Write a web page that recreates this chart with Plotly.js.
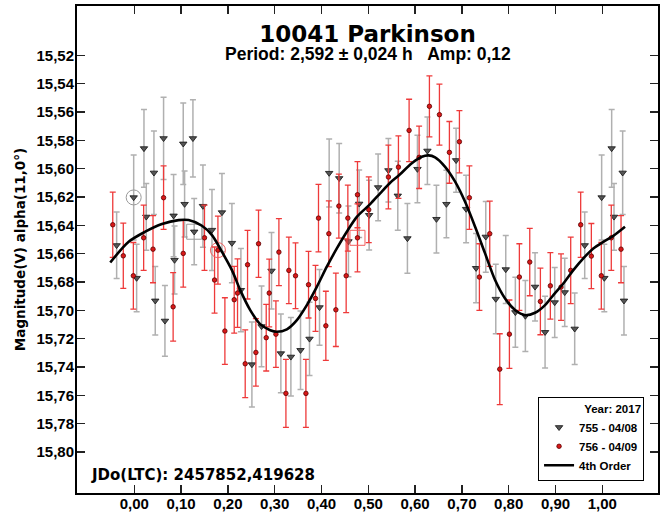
<!DOCTYPE html>
<html>
<head>
<meta charset="utf-8">
<script src="https://cdn.plot.ly/plotly-3.0.1.min.js"></script>
<style>html,body{margin:0;padding:0;background:#fff;}#chart{width:665px;height:516px;}</style>
</head>
<body>
<div id="chart"></div>
<script>
// Session 755 - 04/08 (grey triangles)
const phase755 = [-0.0377,-0.0013,0.0050,0.0207,0.0256,0.0420,0.0448,0.0626,0.0655,0.0840,0.0860,0.1046,0.1075,0.1253,0.1280,0.1467,0.1660,0.1873,0.2086,0.2278,0.2513,0.2719,0.2932,0.3132,0.3346,0.3552,0.3744,0.3958,0.4164,0.4378,0.4576,0.4805,0.5018,0.5210,0.5430,0.5630,0.5836,0.6050,0.6263,0.6456,0.6669,0.6876,0.7090,0.7303,0.7510,0.7724,0.7937,0.8142,0.8356,0.8563,0.8777,0.8983,0.9197,0.9410,0.9624,0.9986,1.0043,1.0200,1.0250,1.0435,1.0463];
const mag755 = [15.6541,15.6203,15.6772,15.5857,15.6340,15.6029,15.6932,15.5786,15.7074,15.6332,15.6645,15.5824,15.6250,15.5786,15.6445,15.6264,15.6433,15.6309,15.6525,15.6857,15.7382,15.7113,15.6721,15.7304,15.7328,15.7281,15.7201,15.6979,15.6031,15.6068,15.6513,15.6248,15.6328,15.6132,15.6012,15.6191,15.6492,15.6003,15.5874,15.6356,15.6250,15.5941,15.6285,15.6702,15.6481,15.6920,15.6711,15.7014,15.7040,15.6834,15.7154,15.6944,15.6873,15.7130,15.6541,15.6203,15.6772,15.5857,15.6340,15.6029,15.6932];
const err755 = [0.0235,0.0300,0.0238,0.0274,0.0235,0.0295,0.0242,0.0290,0.0250,0.0290,0.0240,0.0288,0.0233,0.0273,0.0234,0.0290,0.0286,0.0275,0.0280,0.0294,0.0300,0.0285,0.0270,0.0278,0.0277,0.0277,0.0259,0.0268,0.0240,0.0245,0.0250,0.0238,0.0246,0.0235,0.0224,0.0244,0.0246,0.0238,0.0238,0.0239,0.0238,0.0226,0.0238,0.0245,0.0250,0.0245,0.0240,0.0247,0.0250,0.0241,0.0253,0.0247,0.0241,0.0252,0.0235,0.0300,0.0238,0.0274,0.0235,0.0295,0.0242];

// Session 756 - 04/09 (red dots)
const phase756 = [-0.0460,-0.0235,-0.0020,0.0200,0.0400,0.0626,0.0830,0.1046,0.1500,0.1715,0.1787,0.1936,0.2135,0.2206,0.2370,0.2420,0.2598,0.2655,0.2819,0.2883,0.3026,0.3090,0.3240,0.3303,0.3445,0.3667,0.3723,0.3872,0.3936,0.4093,0.4157,0.4307,0.4371,0.4527,0.4563,0.4769,0.4769,0.5010,0.5430,0.5644,0.5872,0.6086,0.6306,0.6520,0.6733,0.6947,0.7160,0.7374,0.7595,0.7809,0.8015,0.8228,0.8450,0.8677,0.8890,0.9118,0.9325,0.9538,0.9766,0.9979,1.0192,1.0400];
const mag756 = [15.6396,15.6615,15.6756,15.6488,15.6568,15.6205,15.6975,15.6598,15.6488,15.6786,15.6575,15.7146,15.6925,15.6878,15.7377,15.6678,15.7297,15.6530,15.7193,15.6878,15.7168,15.6589,15.7586,15.6718,15.6756,15.7586,15.6819,15.6916,15.6349,15.7109,15.6459,15.6996,15.6264,15.6756,15.6349,15.6184,15.6488,15.6290,15.6059,15.5989,15.5730,15.5920,15.5560,15.5619,15.5885,15.5810,15.6205,15.6765,15.6459,15.7415,15.7168,15.6765,15.6659,15.6937,15.6827,15.6836,15.6718,15.6396,15.6617,15.6756,15.6488,15.6568];
const err756 = [0.0230,0.0230,0.0235,0.0230,0.0237,0.0224,0.0242,0.0238,0.0230,0.0233,0.0240,0.0235,0.0235,0.0242,0.0239,0.0242,0.0238,0.0237,0.0235,0.0239,0.0235,0.0237,0.0240,0.0235,0.0232,0.0240,0.0235,0.0233,0.0238,0.0244,0.0232,0.0259,0.0226,0.0260,0.0233,0.0233,0.0240,0.0232,0.0225,0.0220,0.0220,0.0220,0.0215,0.0215,0.0218,0.0220,0.0224,0.0235,0.0230,0.0250,0.0241,0.0235,0.0238,0.0235,0.0235,0.0235,0.0235,0.0230,0.0230,0.0235,0.0230,0.0237];

// 4th order Fourier fit
const fitPhase = [-0.0513,-0.0120,0.0235,0.0590,0.0946,0.1160,0.1445,0.1660,0.1873,0.2086,0.2264,0.2477,0.2690,0.2904,0.3046,0.3260,0.3474,0.3687,0.3900,0.4114,0.4328,0.4541,0.4755,0.5040,0.5253,0.5467,0.5644,0.5930,0.6143,0.6285,0.6427,0.6641,0.6855,0.7068,0.7282,0.7495,0.7709,0.7922,0.8136,0.8349,0.8563,0.8777,0.8954,0.9167,0.9381,0.9594,0.9808,1.0021,1.0235,1.0485];
const fitMag = [15.6662,15.6516,15.6445,15.6391,15.6363,15.6363,15.6403,15.6469,15.6587,15.6716,15.6857,15.6998,15.7097,15.7140,15.7151,15.7134,15.7069,15.6963,15.6834,15.6692,15.6563,15.6445,15.6340,15.6250,15.6174,15.6099,15.6050,15.5962,15.5916,15.5906,15.5920,15.5987,15.6092,15.6234,15.6410,15.6598,15.6786,15.6916,15.6998,15.7034,15.7017,15.6963,15.6892,15.6810,15.6716,15.6633,15.6563,15.6516,15.6474,15.6410];

// Session start/end highlight markers
const markPhase755 = [-0.0013, 0.1280];
const markMag755 = [15.6203, 15.6445];
const markSym755 = ['circle-open', 'square-open'];
const markPhase756 = [0.1787, 0.4769];
const markMag756 = [15.6575, 15.6488];
const markSym756 = ['circle-open', 'square-open'];

// Axis ticks
const xTickVals = [0,0.1,0.2,0.3,0.4,0.5,0.6,0.7,0.8,0.9,1.0];
const xTickText = ['0,00','0,10','0,20','0,30','0,40','0,50','0,60','0,70','0,80','0,90','1,00'];
const yTickVals = [15.52,15.54,15.56,15.58,15.60,15.62,15.64,15.66,15.68,15.70,15.72,15.74,15.76,15.78,15.80];
const yTickText = ['15,52','15,54','15,56','15,58','15,60','15,62','15,64','15,66','15,68','15,70','15,72','15,74','15,76','15,78','15,80'];

const boldArial = {family:'Liberation Sans, Arial, sans-serif', size:15, color:'#000', weight:'bold'};
const boldWide = {family:'DejaVu Sans, sans-serif', color:'#000', weight:'bold'};

const traces = [
  {
    x: phase755, y: mag755, type:'scatter', mode:'markers', name:'755 - 04/08',
    marker:{symbol:'triangle-down', size:6.5, color:'#555555', line:{color:'#111', width:0.8}},
    error_y:{type:'data', array: err755, visible:true, color:'#b0b0b0', thickness:1.5, width:3}
  },
  {
    x: phase756, y: mag756, type:'scatter', mode:'markers', name:'756 - 04/09',
    marker:{symbol:'circle', size:4.5, color:'#d81818', line:{color:'#5a0000', width:0.8}},
    error_y:{type:'data', array: err756, visible:true, color:'#ee3a3a', thickness:1.3, width:3}
  },
  {
    x: markPhase755, y: markMag755, type:'scatter', mode:'markers', showlegend:false, hoverinfo:'skip',
    marker:{symbol: markSym755, size:15, color:'#9a9a9a', line:{color:'#9a9a9a', width:1}}
  },
  {
    x: markPhase756, y: markMag756, type:'scatter', mode:'markers', showlegend:false, hoverinfo:'skip',
    marker:{symbol: markSym756, size:15, color:'#f06060', line:{color:'#f06060', width:1}}
  },
  {
    x: fitPhase, y: fitMag, type:'scatter', mode:'lines', name:'4th Order',
    line:{color:'#000', width:2.6, shape:'spline', smoothing:0.8}
  }
];

const layout = {
  width:665, height:516,
  margin:{l:77, r:7, t:6, b:23, pad:0},
  paper_bgcolor:'#fff', plot_bgcolor:'#fff',
  showlegend:true,
  title:{text:'10041 Parkinson', font:Object.assign({size:23}, boldWide), x:0.5, xref:'paper', y:1-33.5/516, yref:'container', yanchor:'middle', xanchor:'center'},
  xaxis:{
    range:[-0.1224, 1.119], tickmode:'array', tickvals:xTickVals, ticktext:xTickText,
    ticks:'inside', ticklen:8, tickwidth:1.5, tickcolor:'#222',
    showline:true, linewidth:2, linecolor:'#000', mirror:'ticks',
    showgrid:false, zeroline:false, tickfont:boldArial, ticklabelstandoff:-4
  },
  yaxis:{
    range:[15.8289, 15.4852], tickmode:'array', tickvals:yTickVals, ticktext:yTickText,
    ticks:'inside', ticklen:8, tickwidth:1.5, tickcolor:'#222',
    showline:true, linewidth:2, linecolor:'#000', mirror:'ticks',
    showgrid:false, zeroline:false, tickfont:boldArial, ticklabelstandoff:-2,
    title:{text:'Magnitude(V) alpha(11,0°)', font:Object.assign({size:13.5}, boldWide), standoff:8}
  },
  legend:{
    x:0.976, xanchor:'right', y:0.025, yanchor:'bottom',
    bgcolor:'#fff', bordercolor:'#000', borderwidth:1,
    font:{family:'Liberation Sans, Arial, sans-serif', size:11.5, color:'#000', weight:'bold'},
    title:{text:'Year: 2017', side:'top right', font:{family:'Liberation Sans, Arial, sans-serif', size:11.5, color:'#000', weight:'bold'}},
    itemwidth:30, tracegroupgap:0
  },
  annotations:[
    {text:'Period: 2,592 ± 0,024 h\u00a0\u00a0\u00a0Amp: 0,12', xref:'paper', yref:'paper', x:0.5, y:1-(53.8-6)/486.7,
     xanchor:'center', yanchor:'middle', showarrow:false,
     font:{family:'Liberation Sans, Arial, sans-serif', size:17.5, color:'#000', weight:'bold'}},
    {text:'JDo(LTC): 2457852,419628', xref:'paper', yref:'paper', x:(89.3-77)/581, y:1-(474.7-6)/486.7,
     xanchor:'left', yanchor:'middle', showarrow:false, font:Object.assign({size:15}, boldWide)}
  ]
};

Plotly.newPlot('chart', traces, layout, {displayModeBar:false, staticPlot:true});
</script>
</body>
</html>
